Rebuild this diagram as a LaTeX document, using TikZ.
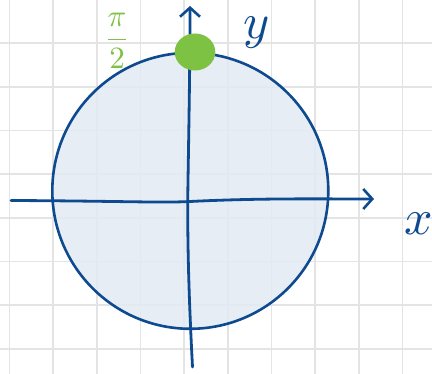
\documentclass[tikz,border=0pt]{standalone}
\usetikzlibrary{arrows.meta}
\definecolor{gridgray}{HTML}{E4E4E4}
\definecolor{axisblue}{HTML}{0E4A90}
\definecolor{fillblue}{HTML}{E3EAF3}
\definecolor{dotgreen}{HTML}{7DC242}
\tikzset{
  axisline/.style={draw=axisblue, line width=2.8pt, line cap=round, line join=round,
    -{Straight Barb[length=9pt,width=20pt,line width=2.6pt]}},
  gridline/.style={draw=gridgray, line width=1.6pt},
  bluelabel/.style={text=axisblue, inner sep=0pt},
}
\begin{document}
\begin{tikzpicture}[x=1pt,y=-1pt]
\useasboundingbox (0,0) rectangle (432,374);
\fill[white] (0,0) rectangle (432,374);
% grid
\foreach \gx in {9.3,53,96.7,140.3,184,227.7,271.3,315,358.7,402.3}
  \draw[gridline] (\gx,0) -- (\gx,374);
\foreach \gy in {43.3,87,130.7,174.3,218,261.7,305.3,349}
  \draw[gridline] (0,\gy) -- (432,\gy);
% disc
\coordinate (O) at (190.3,190.8);
\draw[fill=fillblue, fill opacity=0.85, draw=axisblue, line width=2.6pt] (O) circle[radius=138];
% axes
\coordinate (xs) at (11,200.5);
\coordinate (xe) at (374,199);
\coordinate (ys) at (192.5,367);
\coordinate (ye) at (190,6);
\draw[axisline] (xs) .. controls (120,201) and (160,203) .. (190,201.5) .. controls (260,198) and (320,199) .. (xe);
\draw[axisline] (ys) .. controls (189,300) and (187,240) .. (188,180) .. controls (189,120) and (190,60) .. (ye);
% point
\fill[dotgreen] (195,52) ellipse[x radius=20.3, y radius=18.5];
\node[circle, inner sep=0pt, minimum size=0pt] (P) at (195,52) {};
% labels
\node[bluelabel, scale=5] (ylab) at (257,33) {$y$};
\node[bluelabel, scale=5] (xlab) at (419,224) {$x$};
\node[text=dotgreen, inner sep=0pt, scale=3.1] (lab) at (117,41) {$\displaystyle\frac{\pi}{2}$};
\end{tikzpicture}
\end{document}
